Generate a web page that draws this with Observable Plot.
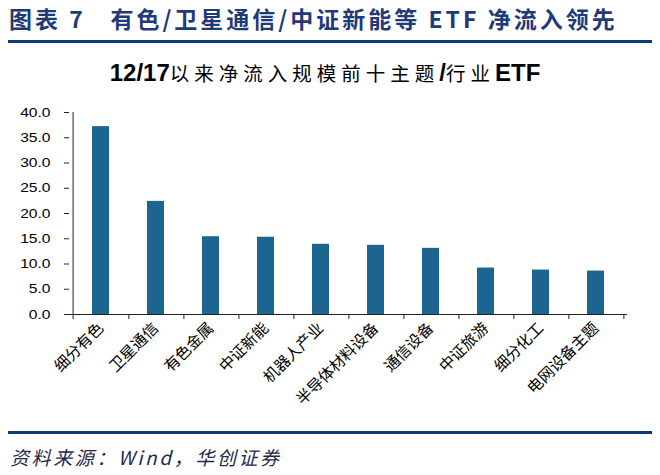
<!DOCTYPE html>
<html><head><meta charset="utf-8">
<script src="https://cdn.jsdelivr.net/npm/d3@7"></script>
<script src="https://cdn.jsdelivr.net/npm/@observablehq/plot@0.6"></script>
<style>
body{margin:0;background:#fff;}
#wrap{position:relative;width:660px;height:475px;overflow:hidden;background:#fff;}
#hdr{position:absolute;left:9px;top:3px;font-family:"Noto Sans CJK SC";font-weight:700;font-size:23px;line-height:30px;color:#1e3a78;letter-spacing:3px;white-space:pre;}
.hline{position:absolute;left:8px;width:644px;height:3px;background:#0c3a7c;}
#title{position:absolute;left:0;width:650px;top:59px;text-align:center;white-space:nowrap;line-height:28px;color:#000;}
#title .l{font-family:"Liberation Sans";font-weight:700;font-size:24px;}
#title .c{font-family:"Noto Sans CJK SC";font-weight:400;font-size:19.5px;letter-spacing:5px;}
#chart{position:absolute;left:0;top:95px;}
#src{position:absolute;left:10px;top:443px;font-family:"Noto Sans CJK SC";font-style:italic;font-size:19px;letter-spacing:2.6px;color:#1f2a4e;white-space:pre;}
</style></head>
<body><div id="wrap">
<div id="hdr">图表 7   有色/卫星通信/中证新能等 ETF 净流入领先</div>
<div class="hline" style="top:40px"></div>
<div id="title"><span class="l">12/17</span><span class="c">以来净流入规模前十主题</span><span class="l">/</span><span class="c">行业</span><span class="l">ETF</span></div>
<div id="chart"></div>
<div class="hline" style="top:431px"></div>
<div id="src">资料来源：Wind，华创证券</div>
</div>
<script>
const categories = ["细分有色","卫星通信","有色金属","中证新能","机器人产业","半导体材料设备","通信设备","中证旅游","细分化工","电网设备主题"];
const values = [37.2,22.4,15.4,15.3,13.9,13.7,13.1,9.2,8.8,8.6];
const yTicks = [0,5,10,15,20,25,30,35,40];
const data = categories.map((c,i)=>({c, v: values[i]}));
const W=660, H=330, mL=69, mR=33, mT=17, mB=111;
const step=(W-mL-mR)/categories.length;
const chart = Plot.plot({
  width:W, height:H, marginLeft:mL, marginRight:mR, marginTop:mT, marginBottom:mB,
  style:{fontFamily:'"Liberation Sans","Noto Sans CJK SC",sans-serif', fontSize:"13px", color:"#000", background:"transparent", overflow:"visible"},
  x:{domain:categories, paddingInner:0.69, paddingOuter:0.345, label:null},
  y:{domain:[0,40], label:null},
  marks:[
    Plot.barY(data,{x:"c",y:"v",fill:"#1b6590"}),
    Plot.ruleY([0],{stroke:"#222"}),
    Plot.ruleX([categories[0]],{x:d=>d, y1:40, y2:0, dx:-step/2, insetBottom:-5, stroke:"#222"}),
    Plot.ruleX(categories,{x:d=>d, y1:0, y2:0, dx:step/2, insetBottom:-5, stroke:"#222"}),
    Plot.axisY({ticks:yTicks, tickFormat:d=>d.toFixed(1), tickSize:5, tickPadding:14, fontSize:12.5, label:null, stroke:"#222"}),
    Plot.axisX({tickSize:0, tickRotate:-45, tickPadding:11, fontSize:15.5, fontFamily:"Noto Sans CJK SC", label:null})
  ]
});
// stretch y tick labels horizontally to match the reference's wide digits
d3.select(chart).selectAll('g[aria-label="y-axis tick label"] text').each(function(){
  const t = d3.select(this);
  const tr = t.attr("transform") || "";
  t.attr("transform", `${tr} scale(1.25,1)`);
});
document.getElementById("chart").appendChild(chart);
</script>
</body></html>
